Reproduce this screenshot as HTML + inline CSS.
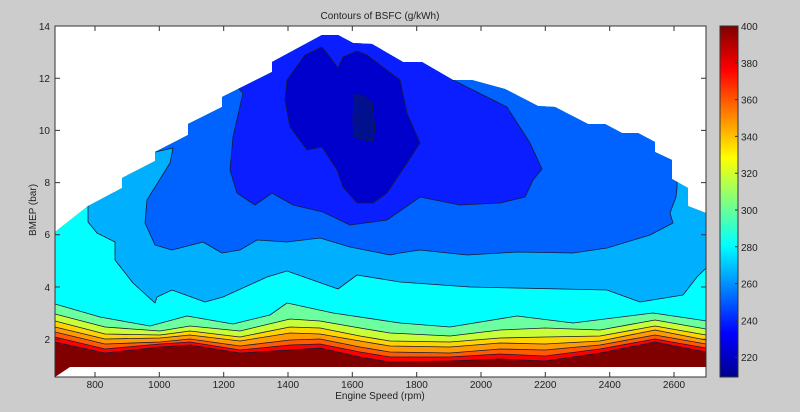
<!DOCTYPE html>
<html><head><meta charset="utf-8"><style>
html,body{margin:0;padding:0;background:#cccccc;}
svg{display:block;font-family:"Liberation Sans",Arial,sans-serif;}
</style></head><body>
<svg width="800" height="412" viewBox="0 0 800 412" xmlns="http://www.w3.org/2000/svg">
<defs>
<clipPath id="dom"><polygon points="55,377 70,367 55,367 55,232 88,206 88,206 122,188 122,178 155,161 155,152 188,135 188,124 222,107 222,97 272,72 272,62 322,35 338,35 353,43 372,44 403,62 422,62 453,80 472,80 505,89 538,106 555,107 588,124 605,124 622,133 638,133 655,142 655,152 672,160 672,179 688,188 688,206 706,213 706,367 55,367"/></clipPath>
<linearGradient id="jet" x1="0" y1="1" x2="0" y2="0">
<stop offset="0" stop-color="#00008f"/><stop offset="0.125" stop-color="#0000ff"/><stop offset="0.375" stop-color="#00ffff"/><stop offset="0.625" stop-color="#ffff00"/><stop offset="0.875" stop-color="#ff0000"/><stop offset="1" stop-color="#800000"/>
</linearGradient>
</defs>
<rect x="55" y="26" width="651" height="351" fill="#fff"/>
<g clip-path="url(#dom)" stroke="#1a1a3a" stroke-width="0.8" stroke-linejoin="round">
<rect x="55" y="26" width="651" height="351" fill="#800000" stroke="none"/>
<polygon fill="#ff0000" points="55,342 105,353 160,347 190,345 240,353 290,350 320,348 360,357 390,362 450,361 500,359 545,361 600,353 655,342 706,352 706,0 55,0"/>
<polygon fill="#ff5a00" points="55,337 105,349 160,344 190,342 240,350 290,345 320,344 360,352 390,357 450,357 500,354 545,356 600,349 655,339 706,348 706,0 55,0"/>
<polygon fill="#ff9a00" points="55,332 105,344 160,342 190,339 240,346 290,340 320,339 360,347 390,352 450,353 500,349 545,350 600,345 655,335 706,344 706,0 55,0"/>
<polygon fill="#ffd400" points="55,327 105,339 160,338 190,335 240,341 290,333 320,334 360,341 390,346 450,347 500,343 545,344 600,341 655,330 706,340 706,0 55,0"/>
<polygon fill="#c8ff38" points="55,321 105,334 160,335 190,331 240,337 290,327 320,328 360,336 390,341 450,342 500,338 545,337 600,336 655,326 706,335 706,0 55,0"/>
<polygon fill="#6cffa0" points="55,314 105,327 160,331 190,326 240,331 290,319 320,321 360,328 390,333 450,336 500,330 545,328 600,330 655,320 706,329 706,0 55,0"/>
<polygon fill="#00ffff" points="55,304 100,317 150,326 187,316 233,324 270,315 287,303 333,313 400,323 450,327 517,316 573,323 653,313 707,321 706,0 55,0"/>
<polygon fill="#00b0ff" points="88,222 97,233 115,242 115,260 133,283 155,303 157,297 172,290 205,302 223,297 267,277 287,271 338,289 357,275 400,282 470,287 607,290 640,302 683,295 697,277 706,268 706,0 88,0"/>
<polygon fill="#0062ff" points="155,152 173,148 170,163 147,200 145,223 155,245 172,250 203,242 222,253 240,250 257,240 287,242 320,238 350,247 390,255 400,253 420,250 467,255 517,252 573,253 607,248 650,235 673,223 670,213 676,197 677,188 677,0 155,0"/>
<polygon fill="#0a1eff" points="238,88 243,93 233,137 230,170 237,193 255,205 272,193 293,205 323,212 350,225 387,220 420,197 460,205 500,203 525,197 533,180 542,169 530,143 507,107 453,80 453,0 238,0"/>
<polygon fill="#0000cc" points="287,80 305,55 322,47 330,57 338,68 343,57 357,51 367,55 400,80 407,113 420,143 407,163 387,193 373,203 357,203 343,187 337,170 322,147 307,150 290,127 285,100"/>
<polygon fill="#00108e" points="354,95 360,95 372,102 375,130 372,142 365,140 354,137 353,120"/>
</g>
<rect x="55" y="26" width="651" height="351" fill="none" stroke="#333" stroke-width="1"/>
<g stroke="#333" stroke-width="1">
<path d="M95,377v-5M159.3,377v-5M223.7,377v-5M288,377v-5M352.3,377v-5M416.7,377v-5M481,377v-5M545.3,377v-5M609.7,377v-5M674,377v-5"/>
<path d="M95,26v5M159.3,26v5M223.7,26v5M288,26v5M352.3,26v5M416.7,26v5M481,26v5M545.3,26v5M609.7,26v5M674,26v5"/>
<path d="M55,78.2h5M55,130.4h5M55,182.6h5M55,234.8h5M55,287h5M55,339.2h5"/>
<path d="M706,78.2h-5M706,130.4h-5M706,182.6h-5M706,234.8h-5M706,287h-5M706,339.2h-5"/>
</g>
<g font-size="10" fill="#222" text-anchor="end">
<text x="50" y="30">14</text><text x="50" y="82">12</text><text x="50" y="134">10</text><text x="50" y="186">8</text><text x="50" y="238">6</text><text x="50" y="291">4</text><text x="50" y="343">2</text>
</g>
<g font-size="10" fill="#222" text-anchor="middle">
<text x="95" y="388">800</text><text x="159.3" y="388">1000</text><text x="223.7" y="388">1200</text><text x="288" y="388">1400</text><text x="352.3" y="388">1600</text><text x="416.7" y="388">1800</text><text x="481" y="388">2000</text><text x="545.3" y="388">2200</text><text x="609.7" y="388">2400</text><text x="674" y="388">2600</text>
</g>
<text x="380" y="19" font-size="10" fill="#222" text-anchor="middle">Contours of BSFC (g/kWh)</text>
<text x="380" y="399" font-size="10" fill="#222" text-anchor="middle">Engine Speed (rpm)</text>
<text transform="translate(36,210) rotate(-90)" font-size="10" fill="#222" text-anchor="middle">BMEP (bar)</text>
<rect x="720" y="26" width="18" height="351" fill="url(#jet)" stroke="#333" stroke-width="1"/>
<g stroke="#333" stroke-width="1">
<path d="M738,62.8h-3M738,99.6h-3M738,136.4h-3M738,173.2h-3M738,210h-3M738,246.8h-3M738,283.6h-3M738,320.4h-3M738,357.2h-3"/>
</g>
<g font-size="10" fill="#222">
<text x="741" y="30">400</text><text x="741" y="66.8">380</text><text x="741" y="103.6">360</text><text x="741" y="140.4">340</text><text x="741" y="177.2">320</text><text x="741" y="214">300</text><text x="741" y="250.8">280</text><text x="741" y="287.6">260</text><text x="741" y="324.4">240</text><text x="741" y="361.2">220</text>
</g>
</svg>
</body></html>
